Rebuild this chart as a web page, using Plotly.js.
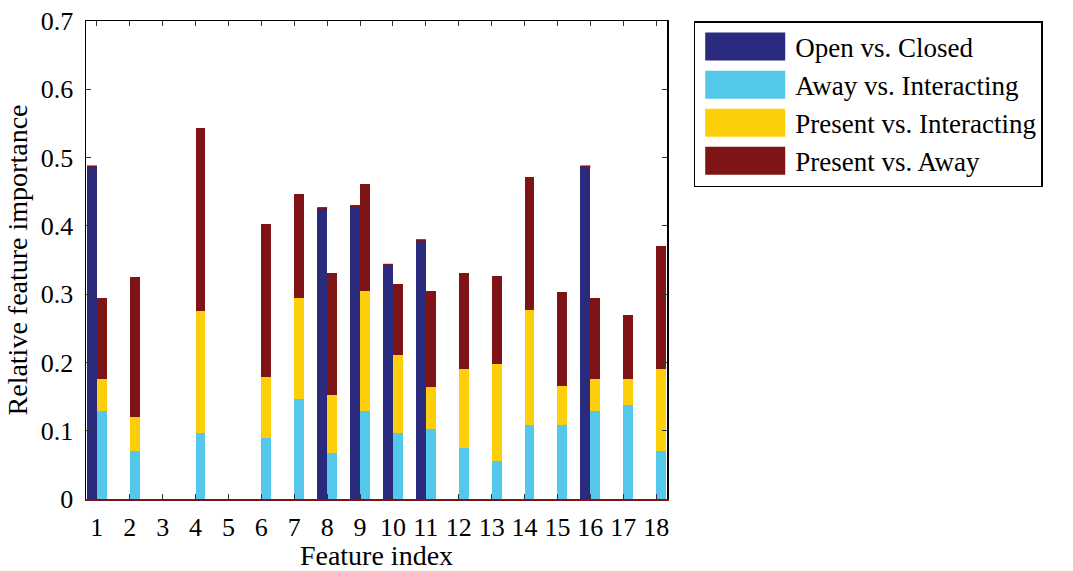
<!DOCTYPE html>
<html>
<head>
<meta charset="utf-8">
<script src="https://cdn.plot.ly/plotly-3.0.1.min.js"></script>
<style>
  html, body { margin: 0; padding: 0; background: #fff; }
  #chart { width: 1073px; height: 571px; }
</style>
</head>
<body>
<div id="chart"></div>
<script>
// Feature indices on the x axis
const features = [1, 2, 3, 4, 5, 6, 7, 8, 9, 10, 11, 12, 13, 14, 15, 16, 17, 18];

// Left bar of each pair: door state classifier
const openClosed = [0.487, 0, 0, 0, 0, 0, 0, 0.426, 0.429, 0.343, 0.379, 0, 0, 0, 0, 0.487, 0, 0];

// Right bar of each pair: stacked segments of the presence classifiers
const awayInteracting = [0.129, 0.071, 0, 0.097, 0, 0.089, 0.146, 0.067, 0.129, 0.097, 0.103, 0.075, 0.056, 0.109, 0.108, 0.129, 0.137, 0.071];
const presentInteracting = [0.047, 0.049, 0, 0.179, 0, 0.090, 0.148, 0.085, 0.175, 0.114, 0.061, 0.116, 0.142, 0.168, 0.057, 0.047, 0.039, 0.119];
const presentAway = [0.118, 0.205, 0, 0.268, 0, 0.224, 0.152, 0.179, 0.158, 0.104, 0.141, 0.140, 0.129, 0.194, 0.138, 0.118, 0.093, 0.180];

const yTickVals = [0, 0.1, 0.2, 0.3, 0.4, 0.5, 0.6, 0.7];
const yTickText = ['0', '0.1', '0.2', '0.3', '0.4', '0.5', '0.6', '0.7'];

const C_BLUE = '#2a2a7e';
const C_LIGHT = '#53c8ea';
const C_YELLOW = '#fccf0a';
const C_RED = '#7f1417';

const BAR_W = 0.3;
const leftPos = features.map(f => f - BAR_W / 2);
const rightPos = features.map(f => f + BAR_W / 2);

function barTrace(name, x, y, color) {
  return {
    type: 'bar', name: name, x: x, y: y, width: BAR_W,
    marker: { color: color, line: { width: 0 } },
    hoverinfo: 'x+y+name'
  };
}

// Edge of the empty stacked segments sitting on top of the door-state bars
const capX = [], capY = [];
openClosed.forEach((v, i) => {
  if (v > 0) {
    capX.push(leftPos[i] - BAR_W / 2, leftPos[i] + BAR_W / 2, null);
    capY.push(v, v, null);
  }
});

const data = [
  barTrace('Open vs. Closed', leftPos, openClosed, C_BLUE),
  barTrace('Away vs. Interacting', rightPos, awayInteracting, C_LIGHT),
  barTrace('Present vs. Interacting', rightPos, presentInteracting, C_YELLOW),
  barTrace('Present vs. Away', rightPos, presentAway, C_RED),
  {
    type: 'scatter', mode: 'lines', x: capX, y: capY, xaxis: 'x2', yaxis: 'y',
    line: { color: C_RED, width: 2 }, showlegend: false, hoverinfo: 'skip'
  }
];

const FONT = 'Liberation Serif, Times New Roman, serif';
const X_RANGE = [0.67, 18.33];

const layout = {
  width: 1073, height: 571,
  margin: { l: 86, r: 406, t: 21, b: 72 },
  paper_bgcolor: '#ffffff', plot_bgcolor: '#ffffff',
  font: { family: FONT, size: 26, color: '#000' },
  barmode: 'stack',
  showlegend: true,
  legend: {
    x: 1.046, y: 1.0, xanchor: 'left', yanchor: 'top',
    traceorder: 'normal',
    bordercolor: '#000', borderwidth: 1.5, bgcolor: '#fff',
    font: { family: FONT, size: 27, color: '#000' },
    itemwidth: 90,
    itemclick: false, itemdoubleclick: false
  },
  xaxis: {
    range: X_RANGE, tickmode: 'array', tickvals: features, ticktext: features.map(String),
    ticks: 'inside', ticklen: 5, tickwidth: 1, tickcolor: '#333',
    showline: true, linecolor: C_RED, linewidth: 2, mirror: false,
    showgrid: false, zeroline: false, ticklabelstandoff: 4,
    title: { text: 'Feature index', standoff: 8, font: { family: FONT, size: 28 } }
  },
  xaxis2: {
    range: X_RANGE, overlaying: 'x', side: 'top', anchor: 'y',
    tickmode: 'array', tickvals: features, showticklabels: false,
    ticks: 'inside', ticklen: 5, tickwidth: 1, tickcolor: '#333',
    showline: true, linecolor: '#000', linewidth: 1.5,
    showgrid: false, zeroline: false
  },
  yaxis: {
    range: [0, 0.7], tickmode: 'array', tickvals: yTickVals, ticktext: yTickText,
    ticks: 'inside', ticklen: 5, tickwidth: 1, tickcolor: '#333',
    showline: true, linecolor: '#000', linewidth: 1.5, mirror: 'ticks',
    showgrid: false, zeroline: false, ticklabelstandoff: 6,
    title: { text: 'Relative feature importance', standoff: 5, font: { family: FONT, size: 28 } }
  }
};

Plotly.newPlot('chart', data, layout, { displayModeBar: false, staticPlot: true }).then(gd => {
  // Widen the legend swatches into long colour bars
  gd.querySelectorAll('.legend .legendpoints path').forEach(p => {
    p.setAttribute('d', 'M40,14H-40V-14H40Z');
  });
});
</script>
</body>
</html>
